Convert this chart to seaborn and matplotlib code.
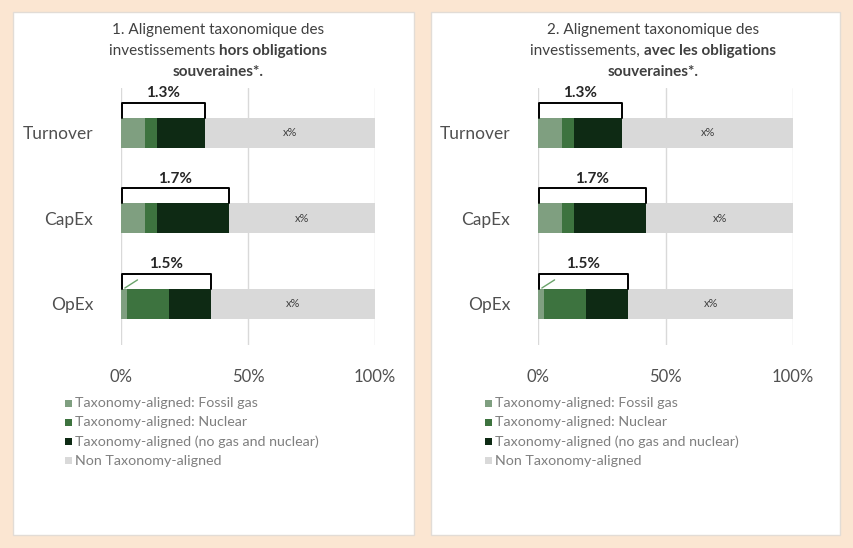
import numpy as np
import pandas as pd
import matplotlib.pyplot as plt
import seaborn as sns
from matplotlib.patches import Rectangle

# --- data ---
categories = ["Turnover", "CapEx", "OpEx"]
fossil_gas = [9.5, 9.5, 2.5]
nuclear = [4.8, 4.8, 16.5]
aligned_other = [18.7, 28.2, 16.4]
non_aligned = [67.0, 57.5, 64.6]
aligned_labels = ["1.3%", "1.7%", "1.5%"]
non_aligned_labels = ["x%", "x%", "x%"]
x_ticks = [0, 50, 100]
x_tick_labels = ["0%", "50%", "100%"]
series_names = ["Taxonomy-aligned: Fossil gas", "Taxonomy-aligned: Nuclear",
                "Taxonomy-aligned (no gas and nuclear)", "Non Taxonomy-aligned"]
colors = ["#7f9f80", "#3d733f", "#0e2a14", "#d9d9d9"]

titles = [
    [[("1. Alignement taxonomique des", False)],
     [("investissements ", False), ("hors obligations", True)],
     [("souveraines*.", True)]],
    [[("2. Alignement taxonomique des", False)],
     [("investissements, ", False), ("avec les obligations", True)],
     [("souveraines*.", True)]],
]

W, H = 854, 548
FONT = "Lato"
sns.set_theme(style="white")
plt.rcParams["font.family"] = [FONT, "DejaVu Sans"]

fig = plt.figure(figsize=(W / 100, H / 100), dpi=100)
fig.patch.set_facecolor("#fbe6d2")

panels = [(13, 414), (431, 840)]   # white panel x range in px
axes_x = [(121, 375), (538, 793)]  # plot area x range in px
title_cx = [218, 653]
legend_x = [65, 485]

df = pd.DataFrame({"category": categories, "fossil": fossil_gas, "nuclear": nuclear,
                   "other": aligned_other, "non": non_aligned})
cum = df[["fossil", "nuclear", "other", "non"]].cumsum(axis=1).to_numpy()
aligned_total = cum[:, 2]

renderer = fig.canvas.get_renderer()


def mixed_line(xc, y, parts, size, color):
    texts = []
    for s, b in parts:
        t = fig.text(0, 1 - y / H, s, fontsize=size, color=color, va="center",
                     fontweight="bold" if b else "normal")
        texts.append(t)
    widths = [t.get_window_extent(renderer).width for t in texts]
    x = xc - sum(widths) / 2
    for t, w in zip(texts, widths):
        t.set_x(x / W)
        x += w


bar_h = 0.35
for p in range(2):
    px0, px1 = panels[p]
    fig.patches.append(Rectangle((px0 / W, 1 - 535 / H), (px1 - px0) / W, (535 - 12) / H,
                                 transform=fig.transFigure, facecolor="white",
                                 edgecolor="#e2dcd6", linewidth=1, zorder=-1))
    ax0, ax1 = axes_x[p]
    ax = fig.add_axes([ax0 / W, (H - 345) / H, (ax1 - ax0) / W, (345 - 88) / H])
    ax.set_facecolor("none")

    # stacked bars: draw cumulative totals from back to front
    for i in range(3, -1, -1):
        sns.barplot(x=cum[:, i], y=categories, orient="h", color=colors[i],
                    saturation=1, width=bar_h, edgecolor="none", ax=ax, zorder=2)

    ax.set_xlim(0, 100)
    ax.set_ylim(2.48, -0.52)
    ax.set_xticks(x_ticks)
    ax.set_xticklabels(x_tick_labels, fontsize=12, color="#505050")
    ax.set_yticks(range(3))
    ax.set_yticklabels(categories, fontsize=12.5, color="#505050")
    ax.set_yticks([0.5, 1.5], minor=True)
    ax.tick_params(axis="x", length=0, pad=17)
    ax.tick_params(axis="y", which="major", length=0, pad=20)
    ax.tick_params(axis="y", which="minor", length=4, width=1, color="#e0e0e0")
    ax.set_xlabel("")
    ax.set_ylabel("")
    ax.xaxis.grid(True, color="#d9d9d9", linewidth=1, zorder=0)
    ax.set_axisbelow(True)
    for s in ax.spines.values():
        s.set_visible(False)

    for i in range(3):
        top = i - bar_h / 2
        btop = top - 0.175
        ax.plot([0.3, 0.3, aligned_total[i], aligned_total[i]], [top, btop, btop, top],
                color="black", linewidth=1.4, solid_joinstyle="round", zorder=3,
                clip_on=False)
        ax.text(aligned_total[i] / 2, btop - 0.11, aligned_labels[i], ha="center",
                va="center", fontsize=11, fontweight="bold", color="#262626")
        ax.text((aligned_total[i] + 100) / 2, i, non_aligned_labels[i], ha="center",
                va="center", fontsize=8, color="#404040")
    # small leader line of the OpEx label
    ax.plot([1.5, 6.5], [1.815, 1.72], color="#6aa36a", linewidth=1, zorder=3)

    for k, line in enumerate(titles[p]):
        mixed_line(title_cx[p], 30 + k * 21, line, 11, "#404040")

    lx = legend_x[p]
    for j, name in enumerate(series_names):
        yy = 403 + j * 19.3
        fig.patches.append(Rectangle((lx / W, 1 - (yy + 3.5) / H), 7 / W, 7 / H,
                                     transform=fig.transFigure, facecolor=colors[j],
                                     edgecolor="none", zorder=3))
        fig.text((lx + 10) / W, 1 - yy / H, name, fontsize=10.3, color="#7f7f7f",
                 va="center")

fig.savefig("out.png", dpi=100, facecolor=fig.get_facecolor())
